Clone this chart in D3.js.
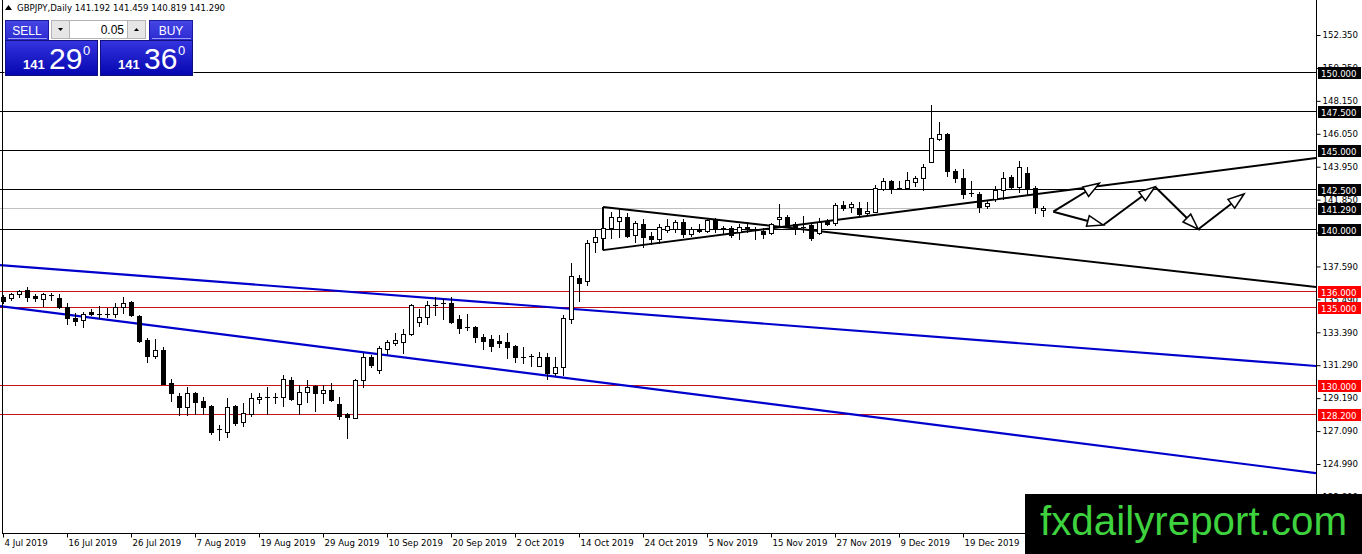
<!DOCTYPE html>
<html>
<head>
<meta charset="utf-8">
<title>GBPJPY Daily</title>
<script src="https://cdn.jsdelivr.net/npm/d3@7"></script>
<style>
  body { margin: 0; background: #fff; overflow: hidden; }
  svg  { display: block; }
</style>
</head>
<body>
<div id="app"></div>
<script>
// ---- data ----
const symbolTitle = "GBPJPY,Daily";
const lastOHLC    = ["141.192", "141.459", "140.819", "141.290"];
const lotSize     = "0.05";
const sellQuote   = ["141", "29", "0"];
const buyQuote    = ["141", "36", "0"];

const dateLabels = ["4 Jul 2019", "16 Jul 2019", "26 Jul 2019", "7 Aug 2019", "19 Aug 2019", "29 Aug 2019",
                    "10 Sep 2019", "20 Sep 2019", "2 Oct 2019", "14 Oct 2019", "24 Oct 2019", "5 Nov 2019",
                    "15 Nov 2019", "27 Nov 2019", "9 Dec 2019", "19 Dec 2019"];

const opens = [135.64,135.57,135.83,136.08,135.70,135.51,135.77,135.57,135.00,134.30,
               134.17,134.68,134.56,134.54,134.55,135.00,135.32,134.43,132.89,131.87,
               132.26,130.15,129.32,128.62,129.52,129.00,128.69,127.24,127.03,128.69,
               127.67,128.17,129.13,129.25,129.26,129.26,130.34,128.81,129.58,129.96,
               129.52,129.71,128.81,128.17,127.92,130.34,131.81,130.98,132.32,132.70,
               132.77,133.28,134.04,134.36,135.12,135.25,135.26,134.23,133.73,133.72,
               133.09,132.96,132.83,132.77,132.51,131.82,131.88,131.24,131.81,130.79,
               131.17,134.23,136.85,136.66,139.15,139.40,140.04,140.48,140.74,139.59,
               140.29,139.53,139.34,139.91,139.97,140.42,139.66,139.97,139.85,140.61,
               140.05,140.04,139.78,140.10,139.92,139.85,139.72,140.61,140.74,140.29,
               140.11,140.23,139.72,140.48,140.36,141.50,141.38,141.31,140.99,141.06,
               142.53,143.04,142.60,142.59,142.97,143.23,144.25,145.71,146.03,143.67,
               143.23,142.28,142.21,141.44,141.89,142.46,143.29,142.65,143.55,142.59,
               141.192];
const highs = [135.77,135.89,136.08,136.28,135.83,135.89,135.89,135.83,135.26,134.62,
               134.68,134.87,135.06,134.94,135.26,135.64,135.38,134.49,133.02,132.96,
               132.45,130.41,129.52,129.90,129.55,129.26,128.75,127.47,129.20,128.75,
               128.88,129.52,129.52,129.90,129.52,130.66,130.54,130.03,130.34,130.03,
               130.03,130.15,129.26,128.24,130.41,132.07,131.94,132.51,132.89,133.34,
               133.60,135.19,134.87,135.38,135.64,135.51,135.64,134.49,134.55,133.79,
               133.28,133.21,133.21,133.34,132.58,132.45,132.00,132.13,132.07,131.81,
               134.49,137.81,137.04,139.27,139.97,140.29,141.06,141.31,141.00,140.48,
               140.61,139.78,140.29,140.61,140.55,140.61,140.10,140.29,140.61,140.68,
               140.17,140.17,140.29,140.42,140.10,140.04,140.36,141.57,140.87,140.42,
               140.80,140.36,140.68,140.61,141.63,141.76,141.70,141.70,141.70,142.78,
               143.23,143.10,143.04,143.61,143.36,144.12,147.88,146.80,146.10,143.80,
               143.80,143.04,142.34,141.76,142.72,143.61,143.42,144.31,143.93,142.72,
               141.459];
const lows  = [135.26,135.45,135.64,135.38,135.38,135.06,135.45,134.94,133.92,133.85,
               133.72,134.49,134.30,134.36,134.36,134.62,134.43,132.77,131.49,131.75,
               130.07,129.00,128.11,128.11,128.17,128.17,126.90,126.52,126.71,127.47,
               127.41,128.05,128.88,128.17,128.88,128.69,129.07,128.17,128.94,128.37,
               128.88,129.00,127.86,126.64,127.90,129.90,131.17,130.79,132.00,132.58,
               132.07,133.21,133.79,133.92,134.49,134.23,133.98,133.34,133.53,132.77,
               132.32,132.19,132.45,131.75,131.49,131.43,131.24,131.22,130.41,130.66,
               130.66,133.98,135.38,136.40,138.51,139.27,139.40,139.46,139.46,139.15,
               138.83,139.02,139.08,139.78,139.78,139.46,139.53,139.78,139.78,139.78,
               139.66,139.46,139.34,139.78,139.34,139.40,139.66,140.10,140.10,139.66,
               139.78,139.27,139.66,140.23,140.23,141.19,141.06,140.87,140.87,141.04,
               142.46,142.27,142.53,142.53,142.72,142.46,144.23,145.65,143.35,142.97,
               141.95,142.08,141.06,141.31,141.76,141.89,142.59,142.34,142.14,141.00,
               140.819];
const closes = [135.38,135.83,136.02,135.64,135.57,135.83,135.75,135.00,134.30,134.11,
               134.55,134.55,134.54,134.56,135.00,135.26,134.49,132.83,131.87,132.26,
               130.09,129.52,128.62,129.52,128.94,128.62,127.03,127.20,128.62,127.60,
               128.24,129.20,129.26,129.27,129.28,130.41,129.13,129.58,129.90,129.52,
               129.71,129.07,128.05,127.98,130.34,131.81,131.30,132.38,132.77,132.89,
               133.28,135.13,134.36,135.13,135.14,135.27,134.04,133.66,133.71,133.09,
               132.83,132.51,132.70,132.45,131.81,131.80,131.86,131.81,130.79,131.17,
               134.30,136.98,136.53,139.08,139.46,140.04,140.74,140.74,139.53,140.36,
               139.46,139.34,140.10,140.17,140.42,139.66,139.97,139.85,140.55,140.04,
               140.03,139.59,140.10,139.97,139.90,139.66,140.29,140.74,140.23,140.04,
               140.09,139.40,140.42,140.29,141.50,141.31,141.57,140.93,141.12,142.59,
               143.04,142.53,142.58,143.10,143.23,143.93,145.78,146.03,143.67,143.23,
               142.21,142.26,141.38,141.63,142.46,143.23,142.65,143.93,142.53,141.38,
               141.290];

const priceTicks  = [152.35, 150.25, 148.15, 146.05, 143.95, 141.85, 139.75, 137.59,
                     135.49, 133.39, 131.29, 129.19, 127.09, 124.99, 122.89];
const blackLevels = [150.0, 147.5, 145.0, 142.5, 140.0];
const redLevels   = [136.0, 135.0, 130.0, 128.2];
const bidPrice    = 141.29;

// trend lines as [bar index, price] pairs
const blueLines = [
    [[-0.375, 137.68], [164.125, 131.24]],
    [[-0.375, 135.06], [164.125, 124.41]]
];
const triangleLines = [
    [[75, 141.38], [164.125, 136.28]],
    [[75, 138.63], [164.125, 144.50]],
    [[75, 138.63], [75, 141.38]]
];
const arrows = [
    [[131.29, 141.08], [137.04, 142.89]],
    [[131.29, 141.08], [137.54, 140.23]],
    [[137.54, 140.23], [144.00, 142.67]],
    [[144.00, 142.67], [149.41, 139.96]],
    [[149.41, 139.96], [155.13, 142.21]]
];

// ---- layout ----
const W = 1362, H = 554;
const plotL = 3, plotR = 1316, plotT = 0, plotB = 533;
const axisFont = "'DejaVu Sans', sans-serif";

const bars = opens.map((o, i) => ({ i: i, o: o, h: highs[i], l: lows[i], c: closes[i] }));

const xScale = d3.scaleLinear().domain([0, 130]).range([3, 1043]);
const yScale = d3.scaleLinear().domain([124.99, 152.35]).range([464, 35]);

const svg = d3.select("#app").append("svg")
    .attr("width", W)
    .attr("height", H);

svg.append("rect").attr("width", W).attr("height", H).attr("fill", "#fff");

const defs = svg.append("defs");
defs.append("clipPath").attr("id", "plotClip")
    .append("rect").attr("x", 0).attr("y", plotT).attr("width", plotR).attr("height", plotB - plotT);

const quoteGrad = defs.append("linearGradient").attr("id", "quoteGrad")
    .attr("x1", 0).attr("y1", 0).attr("x2", 0).attr("y2", 1);
quoteGrad.append("stop").attr("offset", "0%").attr("stop-color", "#3434e0");
quoteGrad.append("stop").attr("offset", "100%").attr("stop-color", "#0606b0");

const btnGrad = defs.append("linearGradient").attr("id", "btnGrad")
    .attr("x1", 0).attr("y1", 0).attr("x2", 0).attr("y2", 1);
btnGrad.append("stop").attr("offset", "0%").attr("stop-color", "#4646e6");
btnGrad.append("stop").attr("offset", "100%").attr("stop-color", "#2a2ad0");

const plot = svg.append("g").attr("clip-path", "url(#plotClip)");

// horizontal levels
plot.selectAll(".lvl-black")
    .data(blackLevels).enter()
    .append("line")
        .attr("class", "lvl-black")
        .attr("x1", 0).attr("x2", plotR)
        .attr("y1", d => Math.round(yScale(d)) + 0.5)
        .attr("y2", d => Math.round(yScale(d)) + 0.5)
        .attr("stroke", "#000").attr("stroke-width", 1);

plot.selectAll(".lvl-red")
    .data(redLevels).enter()
    .append("line")
        .attr("class", "lvl-red")
        .attr("x1", 0).attr("x2", plotR)
        .attr("y1", d => Math.round(yScale(d)) + 0.5)
        .attr("y2", d => Math.round(yScale(d)) + 0.5)
        .attr("stroke", "#c81414").attr("stroke-width", 1);

plot.append("line")
    .attr("x1", 0).attr("x2", plotR)
    .attr("y1", Math.round(yScale(bidPrice)) + 0.5)
    .attr("y2", Math.round(yScale(bidPrice)) + 0.5)
    .attr("stroke", "#c0c0c0").attr("stroke-width", 1);

// trend lines
const toXY = p => [xScale(p[0]), yScale(p[1])];

plot.selectAll(".blue-line")
    .data(blueLines).enter()
    .append("line")
        .attr("class", "blue-line")
        .attr("x1", d => toXY(d[0])[0]).attr("y1", d => toXY(d[0])[1])
        .attr("x2", d => toXY(d[1])[0]).attr("y2", d => toXY(d[1])[1])
        .attr("stroke", "#0000cc").attr("stroke-width", 2.2);

plot.selectAll(".tri-line")
    .data(triangleLines).enter()
    .append("line")
        .attr("class", "tri-line")
        .attr("x1", d => toXY(d[0])[0]).attr("y1", d => toXY(d[0])[1])
        .attr("x2", d => toXY(d[1])[0]).attr("y2", d => toXY(d[1])[1])
        .attr("stroke", "#000").attr("stroke-width", 2);

// candles
const candles = plot.append("g").attr("id", "candles");

candles.selectAll(".wick")
    .data(bars).enter()
    .append("line")
        .attr("class", "wick")
        .attr("x1", d => Math.round(xScale(d.i)) + 0.5)
        .attr("x2", d => Math.round(xScale(d.i)) + 0.5)
        .attr("y1", d => Math.round(yScale(d.h)))
        .attr("y2", d => Math.round(yScale(d.l)) + 1)
        .attr("stroke", "#000").attr("stroke-width", 1);

candles.selectAll(".body")
    .data(bars).enter()
    .append("rect")
        .attr("class", "body")
        .attr("x", d => Math.round(xScale(d.i)) - 1.5)
        .attr("width", 4)
        .attr("y", d => Math.round(yScale(Math.max(d.o, d.c))) + 0.5)
        .attr("height", d => Math.max(0.01, Math.round(yScale(Math.min(d.o, d.c))) - Math.round(yScale(Math.max(d.o, d.c)))))
        .attr("fill", d => d.c < d.o ? "#000" : "#fff")
        .attr("stroke", "#000").attr("stroke-width", 1);

// zig-zag projection arrows
function drawArrow(g, a, b) {
    const [x1, y1] = toXY(a), [x2, y2] = toXY(b);
    const len = Math.hypot(x2 - x1, y2 - y1);
    const ux = (x2 - x1) / len, uy = (y2 - y1) / len;
    const head = 16, half = 5.5;
    const bx = x2 - ux * head, by = y2 - uy * head;
    g.append("line")
        .attr("x1", x1).attr("y1", y1).attr("x2", bx).attr("y2", by)
        .attr("stroke", "#000").attr("stroke-width", 2);
    g.append("polygon")
        .attr("points", [[x2, y2], [bx - uy * half, by + ux * half], [bx + uy * half, by - ux * half]].map(p => p.join(",")).join(" "))
        .attr("fill", "#fff").attr("stroke", "#000").attr("stroke-width", 1.5).attr("stroke-linejoin", "miter");
}
const arrowG = plot.append("g").attr("id", "arrows");
arrows.forEach(a => drawArrow(arrowG, a[0], a[1]));

// frame
svg.append("line").attr("x1", 2.5).attr("x2", 2.5).attr("y1", 0).attr("y2", plotB).attr("stroke", "#000");
svg.append("line").attr("x1", plotR + 0.5).attr("x2", plotR + 0.5).attr("y1", 0).attr("y2", plotB + 0.5).attr("stroke", "#000");
svg.append("line").attr("x1", 2).attr("x2", plotR + 1).attr("y1", plotB + 0.5).attr("y2", plotB + 0.5).attr("stroke", "#000");

// price axis
const yAxis = svg.append("g")
    .attr("transform", "translate(" + (plotR + 0.5) + ",0)")
    .call(d3.axisRight(yScale).tickValues(priceTicks).tickSize(4).tickPadding(2).tickFormat(d3.format(".3f")));
yAxis.select(".domain").remove();
yAxis.selectAll("text")
    .attr("font-family", axisFont)
    .style("font-size", "8.6px")
    .attr("fill", "#000");

// level labels on the axis
const levelTags = [].concat(
    blackLevels.map(v => ({ v: v, bg: "#000" })),
    redLevels.map(v => ({ v: v, bg: "#ff0000" })),
    [{ v: bidPrice, bg: "#000" }]
);
const tags = svg.append("g").attr("id", "levelTags");
tags.selectAll("rect")
    .data(levelTags).enter()
    .append("rect")
        .attr("x", plotR + 2)
        .attr("y", d => Math.round(yScale(d.v)) - 5)
        .attr("width", 43)
        .attr("height", 12)
        .attr("fill", d => d.bg);
tags.selectAll("text")
    .data(levelTags).enter()
    .append("text")
        .attr("x", plotR + 5)
        .attr("y", d => Math.round(yScale(d.v)) + 4.5)
        .attr("font-family", axisFont)
        .attr("font-size", "8.6px")
        .attr("fill", "#fff")
        .text(d => d3.format(".3f")(d.v));

// time axis
const xAxis = svg.append("g")
    .attr("transform", "translate(0," + (plotB + 0.5) + ")")
    .call(d3.axisBottom(xScale).tickValues(d3.range(0, dateLabels.length * 8, 8)).tickSize(4).tickFormat((d, i) => dateLabels[i]));
xAxis.select(".domain").remove();
xAxis.selectAll(".tick").attr("transform", d => "translate(" + (Math.round(xScale(d)) + 0.5) + ",0)");
xAxis.selectAll("text")
    .attr("font-family", axisFont)
    .style("font-size", "8.6px")
    .style("text-anchor", "start")
    .attr("x", 1)
    .attr("y", 6)
    .attr("fill", "#000");

// header line
svg.append("path").attr("d", "M5,10 L8.5,5 L12,10 Z").attr("fill", "#000");
svg.append("text")
    .attr("x", 17).attr("y", 11)
    .attr("font-family", axisFont).attr("font-size", "8.6px")
    .text(symbolTitle + "  " + lastOHLC.join(" "));

// one-click trading panel
const panel = svg.append("g").attr("id", "tradePanel");
panel.append("rect").attr("x", 4.5).attr("y", 19.5).attr("width", 189).attr("height", 56).attr("fill", "#fff");

function quoteBlock(x, label, q) {
    panel.append("rect").attr("x", x + 0.5).attr("y", 20.5).attr("width", 43).attr("height", 20)
        .attr("fill", "url(#btnGrad)").attr("stroke", "#1a1a9a");
    panel.append("line").attr("x1", x + 3).attr("x2", x + 42).attr("y1", 38.5).attr("y2", 38.5)
        .attr("stroke", "#9a9af0");
    panel.append("text").attr("x", x + 22).attr("y", 35)
        .attr("text-anchor", "middle").attr("font-family", "'Liberation Sans', Arial, sans-serif")
        .attr("font-size", "12px").attr("fill", "#fff").text(label);
}
function priceBlock(x, q) {
    panel.append("rect").attr("x", x + 0.5).attr("y", 40.5).attr("width", 92).attr("height", 35)
        .attr("fill", "url(#quoteGrad)").attr("stroke", "#10107a");
    panel.append("text").attr("x", x + 18).attr("y", 69)
        .attr("font-family", "'Liberation Sans', Arial, sans-serif").attr("font-size", "13px")
        .attr("font-weight", "bold").attr("fill", "#fff").text(q[0]);
    panel.append("text").attr("x", x + 44).attr("y", 69)
        .attr("font-family", "'Liberation Sans', Arial, sans-serif").attr("font-size", "30px")
        .attr("fill", "#fff").text(q[1]);
    panel.append("text").attr("x", x + 78).attr("y", 55)
        .attr("font-family", "'Liberation Sans', Arial, sans-serif").attr("font-size", "13px")
        .attr("fill", "#fff").text(q[2]);
}
quoteBlock(5, "SELL", sellQuote);
quoteBlock(149, "BUY", buyQuote);
priceBlock(5, sellQuote);
priceBlock(100, buyQuote);

// lot size spinner
panel.append("rect").attr("x", 51.5).attr("y", 20.5).attr("width", 18).attr("height", 18)
    .attr("fill", "#e6e6e6").attr("stroke", "#b4b4b4");
panel.append("path").attr("d", "M58,28 L63,28 L60.5,31 Z").attr("fill", "#000");
panel.append("rect").attr("x", 69.5).attr("y", 20.5).attr("width", 58).attr("height", 18)
    .attr("fill", "#fff").attr("stroke", "#b4b4b4");
panel.append("text").attr("x", 124).attr("y", 34)
    .attr("text-anchor", "end").attr("font-family", "'Liberation Sans', Arial, sans-serif")
    .attr("font-size", "12px").attr("fill", "#000").text(lotSize);
panel.append("rect").attr("x", 127.5).attr("y", 20.5).attr("width", 18).attr("height", 18)
    .attr("fill", "#e6e6e6").attr("stroke", "#b4b4b4");
panel.append("path").attr("d", "M134,31 L139,31 L136.5,28 Z").attr("fill", "#000");

// watermark
svg.append("rect").attr("x", 1025).attr("y", 494).attr("width", W - 1025).attr("height", H - 494).attr("fill", "#000");
svg.append("text")
    .attr("x", 1040).attr("y", 535)
    .attr("font-family", "'Liberation Sans', Arial, sans-serif")
    .attr("font-size", "40px")
    .attr("textLength", 307).attr("lengthAdjust", "spacingAndGlyphs")
    .attr("fill", "#3ed23e")
    .text("fxdailyreport.com");
</script>
</body>
</html>
